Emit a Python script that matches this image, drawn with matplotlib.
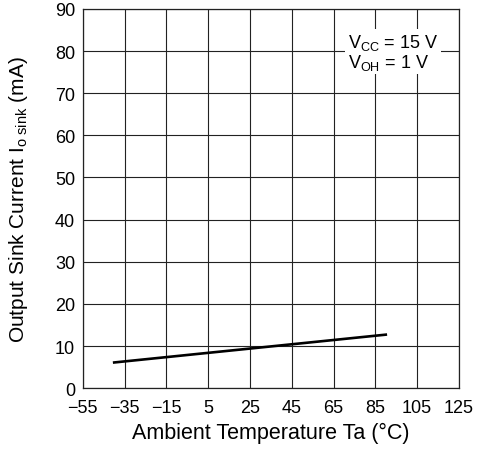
import matplotlib
matplotlib.use("Agg")
import matplotlib.pyplot as plt
import numpy as np

# Data
temp = [-40, 90]
sink_current = [6.1, 12.7]
x_ticks = [-55, -35, -15, 5, 25, 45, 65, 85, 105, 125]
y_ticks = [0, 10, 20, 30, 40, 50, 60, 70, 80, 90]

plt.rcParams['font.family'] = ['Liberation Sans', 'DejaVu Sans']
plt.rcParams['mathtext.fontset'] = 'custom'
plt.rcParams['mathtext.rm'] = 'Liberation Sans'
plt.rcParams['mathtext.it'] = 'Liberation Sans'

fig = plt.figure(figsize=(4.79, 4.52), dpi=100)
ax = fig.add_axes([0.173, 0.139, 0.785, 0.839])

ax.plot(temp, sink_current, color='black', linewidth=1.9, zorder=3)

ax.set_xlim(-55, 125)
ax.set_ylim(0, 90)
ax.set_xticks(x_ticks)
ax.set_yticks(y_ticks)
ax.tick_params(length=0, labelsize=13)
ax.tick_params(axis='x', pad=8)
ax.tick_params(axis='y', pad=5.5)
ax.grid(True, color='#222222', linewidth=0.8)
for s in ax.spines.values():
    s.set_linewidth(0.9)
    s.set_color('#222222')

ax.set_xlabel("Ambient Temperature Ta (°C)", fontsize=15.5)
ax.set_ylabel(r"Output Sink Current I$_\mathrm{o\ sink}$ (mA)", fontsize=15)
ax.xaxis.set_label_coords(0.5, -0.088)
ax.yaxis.set_label_coords(-0.14, 0.5)

ax.text(72, 79.9, "V$_\\mathrm{CC}$ = 15 V\nV$_\\mathrm{OH}$ = 1 V", fontsize=13,
        ha='left', va='center', linespacing=1.0, zorder=4,
        bbox=dict(facecolor='white', edgecolor='none', pad=2))

plt.savefig('out.png', dpi=100)
